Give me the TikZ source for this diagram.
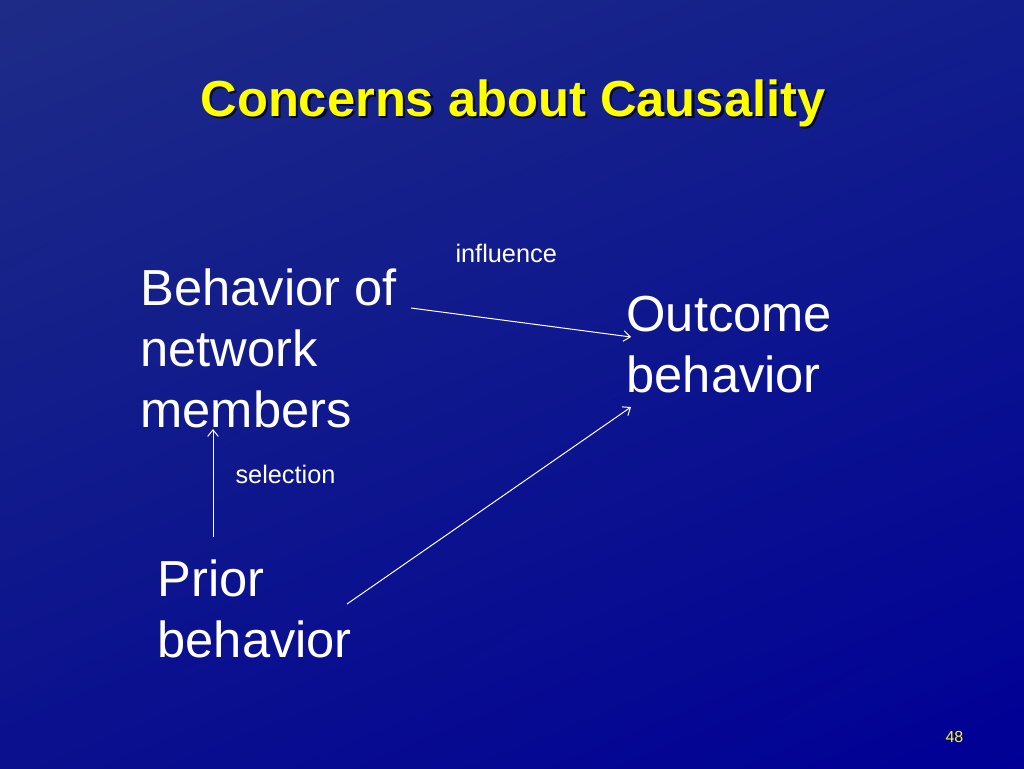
\documentclass[tikz,border=0pt]{standalone}
\usepackage{fontspec}
\setmainfont{Liberation Sans}
\usetikzlibrary{positioning,arrows.meta,shadings}

\definecolor{bgul}{RGB}{30,44,135}
\definecolor{bgur}{RGB}{18,30,140}
\definecolor{bgll}{RGB}{10,16,142}
\definecolor{bglr}{RGB}{0,0,150}
\definecolor{ttlyellow}{RGB}{255,255,0}
\definecolor{ttlshadow}{RGB}{8,8,40}

\tikzset{every picture/.style={line width=0.75pt}}
\tikzset{
	bigtext/.style={text=white, font=\fontsize{38}{45.75}\selectfont, align=left, inner sep=0pt, anchor=base west},
	smalltext/.style={text=white, font=\fontsize{19}{22}\selectfont, inner sep=0pt, anchor=base west},
	ttltext/.style={font=\fontsize{38}{45}\selectfont\bfseries, inner sep=0pt, anchor=base},
	conn/.style={draw=white, line width=0.75pt, -{Straight Barb[length=5pt,width=8pt]}},
}

\begin{document}
\begin{tikzpicture}[x=0.75pt,y=0.75pt,yscale=-1,xscale=1]
	\useasboundingbox (0,0) rectangle (1024,768);
	%Background
	\shade [upper left=bgul, upper right=bgur, lower left=bgll, lower right=bglr] (0,0) rectangle (1024,768);

	% Title
	\node [ttltext, text=ttlshadow] (title-sh) at (515.5,118.5) {Concerns about Causality};
	\node [ttltext, text=ttlyellow] (title) at (513,116) {Concerns about Causality};

	% Text Node
	\node [bigtext] (members) at (140,427) {Behavior of\\network\\members};
	% Text Node
	\node [bigtext] (outcome) at (626,392) {Outcome\\behavior};
	% Text Node
	\node [bigtext] (prior) at (157,657) {Prior\\behavior};
	% Text Node
	\node [smalltext] (infl) at (455,262) {influence};
	% Text Node
	\node [smalltext] (sel) at (235,483) {selection};
	% Text Node
	\node [text=ttlyellow, font=\fontsize{12}{14}\selectfont, inner sep=0pt, anchor=base west] (pnum) at (945,742) {48};

	%Straight Lines
	\coordinate (infl-a) at (411,308);
	\coordinate (infl-b) at (631,337);
	\draw [conn] (infl-a) -- (infl-b);
	%Straight Lines
	\coordinate (sel-a) at (213,537);
	\coordinate (sel-b) at (213,429);
	\draw [conn] (sel-a) -- (sel-b);
	%Straight Lines
	\coordinate (prior-a) at (347,604);
	\coordinate (prior-b) at (631,407);
	\draw [conn] (prior-a) -- (prior-b);

\end{tikzpicture}
\end{document}
